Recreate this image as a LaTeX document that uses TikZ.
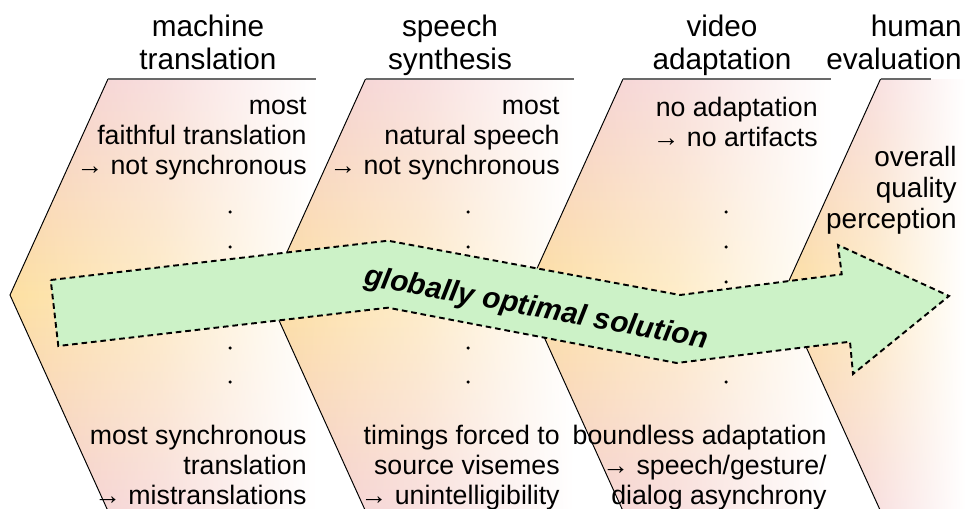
\documentclass[tikz,border=0pt]{standalone}
\usepackage{fontspec}
\setmainfont{Liberation Sans}
\usetikzlibrary{fadings}
\definecolor{chevpink}{RGB}{243,200,200}
\definecolor{chevyellow}{RGB}{253,224,162}
\definecolor{arrowgreen}{RGB}{204,242,199}
\definecolor{rulegray}{RGB}{105,105,105}
\tikzfading[name=fadeeast, left color=transparent!0, right color=transparent!100, middle color=transparent!42]

\begin{document}
\begin{tikzpicture}[
  chevfill/.style={top color=chevpink, bottom color=chevpink, middle color=chevyellow, path fading=fadeeast},
  chevedge/.style={line width=0.55pt, black},
  headrule/.style={line width=0.9pt, rulegray},
  stage/.style={font=\fontsize{16.9}{18.8}\selectfont, align=center, anchor=north, inner sep=0pt},
  remark/.style={font=\fontsize{15.2}{17.07}\selectfont, align=right, anchor=north east, inner sep=0pt},
  optarrow/.style={fill=arrowgreen, draw=black, line width=1.1pt, dash pattern=on 3.2pt off 2.2pt, line join=miter}
]
  \useasboundingbox (0,0) rectangle (19.32,10.16);

  % chevrons: left corner / fill width / rule length
  \foreach \x/\w/\r in {2.16/4.16/4.16, 7.31/4.16/4.16, 12.46/4.16/4.16, 17.61/1.71/1.0} {
    \shade[chevfill] (\x,8.58) -- ++(\w,0) -- (\x+\w,-0.06) -- (\x,-0.06) -- (\x-1.96,4.26) -- cycle;
    \draw[chevedge] (\x,8.58) -- (\x-1.96,4.26) -- (\x,-0.06);
    \draw[headrule] (\x,8.58) -- ++(\r,0);
  }

  % vertical dots between the extremes
  \foreach \x in {4.6, 9.36, 14.52}
    \foreach \y in {5.92, 5.22, 4.52, 3.86, 3.2, 2.52}
      \fill (\x,\y) circle (0.035);

  \node[stage] (mt) at (4.16,9.87) {machine\\translation};
  \node[stage] (ss) at (9.0,9.87) {speech\\synthesis};
  \node[stage] (va) at (14.44,9.87) {video\\adaptation};
  \node[stage, anchor=north east, align=right] (he) at (19.24,9.87) {human\\evaluation};

  \node[remark] (mttop) at (6.14,8.22) {most\\faithful translation\\→ not synchronous};
  \node[remark] (mtbot) at (6.14,1.66) {most synchronous\\translation\\→ mistranslations};
  \node[remark] (sstop) at (11.2,8.22) {most\\natural speech\\→ not synchronous};
  \node[remark] (ssbot) at (11.2,1.66) {timings forced to\\source visemes\\→ unintelligibility};
  \node[remark] (vatop) at (16.36,8.22) {no adaptation\\→ no artifacts};
  \node[remark] (vabot) at (16.54,1.66) {boundless adaptation\\→ speech/gesture/\\dialog asynchrony};
  \node[remark, font=\fontsize{15.9}{17.6}\selectfont] (hetop) at (19.14,7.24) {overall\\quality\\perception};

  % the bent arrow across all stages
  \draw[optarrow] (1.014,4.56) -- (7.76,5.346) -- (13.6,4.26) -- (16.834,4.674) -- (16.76,5.26)
    -- (18.98,4.24) -- (17.06,2.68) -- (17.0,3.326) -- (13.534,2.9) -- (7.76,4.006) -- (1.166,3.24) -- cycle;
  \node[font=\fontsize{16.85}{19}\selectfont\bfseries\itshape, rotate=-10.5] (sol) at (10.72,3.98) {globally optimal solution};
\end{tikzpicture}
\end{document}
